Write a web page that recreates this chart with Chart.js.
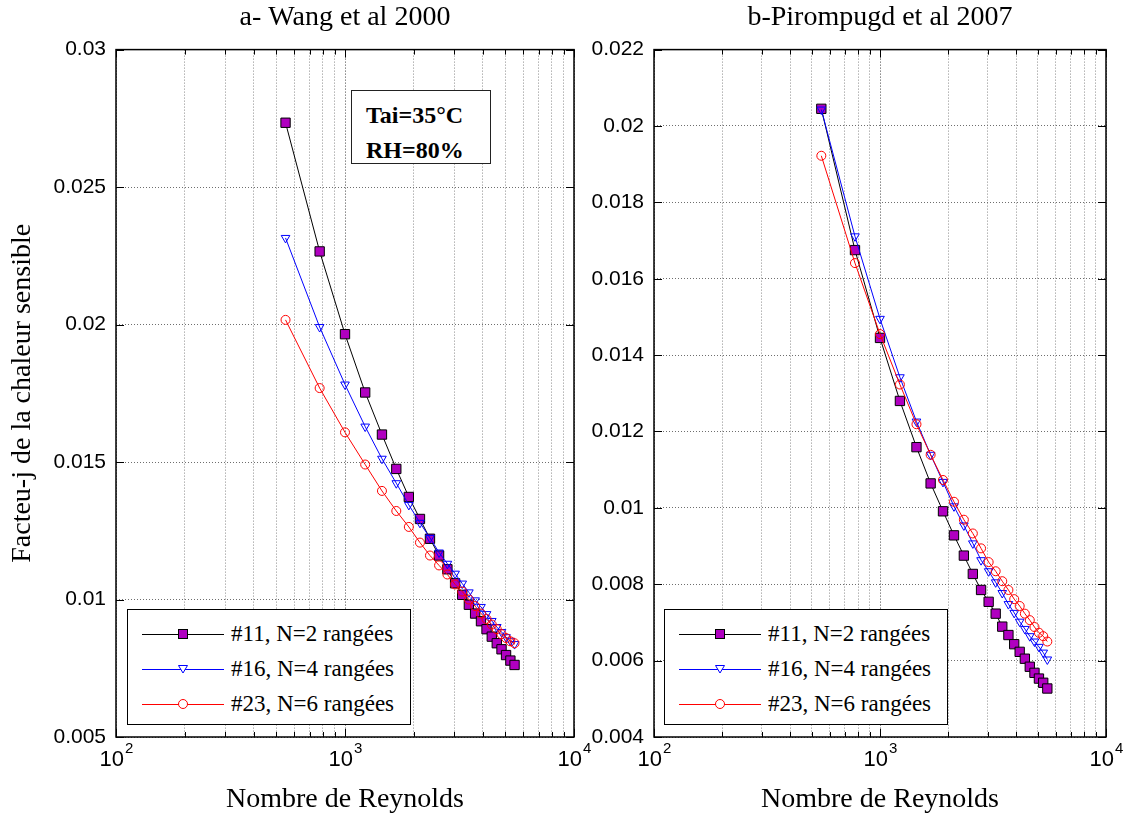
<!DOCTYPE html>
<html>
<head>
<meta charset="utf-8">
<script src="https://cdn.jsdelivr.net/npm/chart.js@4.4.1/dist/chart.umd.min.js"></script>
<style>
  body { margin: 0; background: #fff; }
  #page { position: relative; width: 1126px; height: 816px; overflow: hidden; }
  canvas { position: absolute; top: 0; }
  #chartA { left: 0; }
  #chartB { left: 580px; }
  .legend { position: absolute; width: 282px; height: 114px; border: 1px solid #000; background: #fff; }
  .legend .row { position: absolute; left: 0; width: 282px; height: 24px; }
  .legend svg { position: absolute; left: 14px; top: 5px; }
  .legend span { position: absolute; left: 103px; top: 0; font: 23px "Liberation Serif", "Times New Roman", serif; line-height: 24px; white-space: nowrap; }
  #note { position: absolute; left: 351px; top: 90px; width: 140px; height: 74px; border: 1px solid #222; background: #fff;
          font: bold 24px "Liberation Serif", "Times New Roman", serif; line-height: 35px; padding: 7px 0 0 14px; box-sizing: border-box; }
</style>
</head>
<body>
<div id="page">
  <canvas id="chartA" width="600" height="816"></canvas>
  <canvas id="chartB" width="546" height="816"></canvas>
  <div id="note">Tai=35°C<br>RH=80%</div>
  <div class="legend" id="legA" style="left:127px; top:609px;"></div>
  <div class="legend" id="legB" style="left:664px; top:609px;"></div>
</div>
<script>
// Reynolds numbers (same for every series)
var reynolds = [550, 775, 1000, 1225, 1450, 1675, 1900, 2125, 2350, 2575, 2800, 3025,
                3250, 3475, 3700, 3925, 4150, 4375, 4600, 4825, 5050, 5275, 5500];

var seriesLabels = ['#11, N=2 rangées', '#16, N=4 rangées', '#23, N=6 rangées'];

// a- Wang et al 2000
var wangN2 = [0.02734, 0.02266, 0.01965, 0.01753, 0.01600, 0.01475, 0.01373, 0.01293, 0.01221, 0.01160, 0.01110, 0.01059,
              0.01017, 0.00981, 0.00949, 0.00921, 0.00892, 0.00865, 0.00841, 0.00819, 0.00798, 0.00778, 0.00762];
var wangN4 = [0.02315, 0.01991, 0.01782, 0.01629, 0.01512, 0.01423, 0.01344, 0.01279, 0.01224, 0.01171, 0.01130, 0.01094,
              0.01058, 0.01026, 0.00997, 0.00973, 0.00947, 0.00922, 0.00900, 0.00882, 0.00863, 0.00850, 0.00838];
var wangN6 = [0.02017, 0.01769, 0.01608, 0.01491, 0.01395, 0.01322, 0.01264, 0.01207, 0.01160, 0.01124, 0.01091, 0.01055,
              0.01029, 0.01000, 0.00976, 0.00949, 0.00929, 0.00909, 0.00892, 0.00874, 0.00860, 0.00848, 0.00841];

// b-Pirompugd et al 2007
var pirN2 = [0.02045, 0.01675, 0.01445, 0.01280, 0.01159, 0.01064, 0.00991, 0.00928, 0.00875, 0.00827, 0.00785, 0.00754,
             0.00723, 0.00689, 0.00667, 0.00643, 0.00623, 0.00605, 0.00584, 0.00568, 0.00553, 0.00542, 0.00527];
var pirN4 = [0.02043, 0.01711, 0.01495, 0.01342, 0.01226, 0.01139, 0.01068, 0.01004, 0.00954, 0.00907, 0.00863, 0.00834,
             0.00805, 0.00777, 0.00748, 0.00725, 0.00702, 0.00683, 0.00664, 0.00650, 0.00636, 0.00621, 0.00603];
var pirN6 = [0.01922, 0.01641, 0.01455, 0.01323, 0.01219, 0.01139, 0.01073, 0.01016, 0.00969, 0.00933, 0.00894, 0.00858,
             0.00834, 0.00808, 0.00785, 0.00761, 0.00743, 0.00723, 0.00706, 0.00688, 0.00673, 0.00664, 0.00650];

// tick labels
var yTicksA = [0.005, 0.01, 0.015, 0.02, 0.025, 0.03];
var yTicksB = [0.004, 0.006, 0.008, 0.01, 0.012, 0.014, 0.016, 0.018, 0.02, 0.022];
var xDecades = [100, 1000, 10000];
var xExponents = ['2', '3', '4'];

var SERIF = '"Liberation Serif", "Times New Roman", serif';
var SANS = '"Liberation Sans", Arial, sans-serif';
var MAGENTA = '#b000c0';

// minor + major vertical grid positions of the log axis
var xGrid = [];
for (var d = 0; d < xDecades.length - 1; d++) {
    for (var k = 1; k < 10; k++) xGrid.push(k * xDecades[d]);
}
xGrid.push(xDecades[xDecades.length - 1]);

function pts(vals) {
    return reynolds.map(function (r, i) { return { x: r, y: vals[i] }; });
}

// frame, inward ticks and 10^n labels (MATLAB look)
var framePlugin = {
    id: 'frame',
    afterDraw: function (chart) {
        var ctx = chart.ctx, a = chart.chartArea, xs = chart.scales.x, ys = chart.scales.y;
        ctx.save();
        ctx.strokeStyle = '#000';
        ctx.lineWidth = 1;
        ctx.beginPath();
        xs.ticks.forEach(function (t) {
            var px = Math.round(xs.getPixelForValue(t.value)) + 0.5;
            var len = xDecades.indexOf(t.value) >= 0 ? 8 : 5;
            ctx.moveTo(px, a.bottom); ctx.lineTo(px, a.bottom - len);
            ctx.moveTo(px, a.top); ctx.lineTo(px, a.top + len);
        });
        ys.ticks.forEach(function (t) {
            var py = Math.round(ys.getPixelForValue(t.value)) + 0.5;
            ctx.moveTo(a.left, py); ctx.lineTo(a.left + 8, py);
            ctx.moveTo(a.right, py); ctx.lineTo(a.right - 8, py);
        });
        ctx.stroke();
        ctx.lineWidth = 1.5;
        ctx.strokeRect(a.left, a.top, a.right - a.left, a.bottom - a.top);

        ctx.fillStyle = '#000';
        ctx.textBaseline = 'alphabetic';
        ctx.textAlign = 'left';
        xDecades.forEach(function (v, i) {
            var px = xs.getPixelForValue(v);
            ctx.font = '22px ' + SANS;
            var w1 = ctx.measureText('10').width;
            ctx.font = '15px ' + SANS;
            var w2 = ctx.measureText(xExponents[i]).width;
            var x0 = px - (w1 + w2) / 2;
            ctx.font = '22px ' + SANS;
            ctx.fillText('10', x0, a.bottom + 29);
            ctx.font = '15px ' + SANS;
            ctx.fillText(xExponents[i], x0 + w1 + 1, a.bottom + 16);
        });
        ctx.restore();
    }
};

function makeChart(id, title, yMin, yMax, yTicks, yWidth, rightPad, yTitle, n2, n4, n6) {
    var ctx = document.getElementById(id).getContext('2d');
    return new Chart(ctx, {
        type: 'line',
        data: {
            datasets: [{
                label: seriesLabels[0],
                data: pts(n2),
                borderColor: '#000',
                borderWidth: 1,
                pointStyle: 'rect',
                pointRadius: 6.6,
                pointBackgroundColor: MAGENTA,
                pointBorderColor: '#000',
                pointBorderWidth: 1,
                order: 3
            }, {
                label: seriesLabels[1],
                data: pts(n4),
                borderColor: '#0000ff',
                borderWidth: 1,
                pointStyle: 'triangle',
                pointRotation: 180,
                pointRadius: 5,
                pointBackgroundColor: 'rgba(0,0,0,0)',
                pointBorderColor: '#0000ff',
                pointBorderWidth: 1,
                order: 2
            }, {
                label: seriesLabels[2],
                data: pts(n6),
                borderColor: '#ff0000',
                borderWidth: 1,
                pointStyle: 'circle',
                pointRadius: 4.5,
                pointBackgroundColor: 'rgba(0,0,0,0)',
                pointBorderColor: '#ff0000',
                pointBorderWidth: 1,
                order: 1
            }]
        },
        options: {
            responsive: false,
            animation: false,
            layout: { autoPadding: false, padding: { left: 0, right: rightPad, top: 0, bottom: 0 } },
            plugins: {
                legend: { display: false },
                tooltip: { enabled: false },
                title: {
                    display: true,
                    fullSize: false,
                    text: title,
                    color: '#000',
                    font: { family: SERIF, size: 28, weight: 'normal' },
                    padding: { top: 1, bottom: 15 }
                }
            },
            scales: {
                x: {
                    type: 'logarithmic',
                    min: 100,
                    max: 10000,
                    afterBuildTicks: function (s) {
                        s.ticks = xGrid.map(function (v) { return { value: v, major: xDecades.indexOf(v) >= 0 }; });
                    },
                    afterFit: function (s) { s.height = 79; },
                    ticks: { display: false },
                    grid: {
                        drawTicks: false,
                        lineWidth: 1,
                        color: function (c) {
                            return c.tick && xDecades.indexOf(c.tick.value) >= 0 ? '#444' : '#8a8a8a';
                        }
                    },
                    border: { display: false, dash: [1, 2] },
                    title: {
                        display: true,
                        text: 'Nombre de Reynolds',
                        color: '#000',
                        font: { family: SERIF, size: 28 },
                        padding: { top: 0, bottom: 0 }
                    }
                },
                y: {
                    type: 'linear',
                    min: yMin,
                    max: yMax,
                    afterBuildTicks: function (s) {
                        s.ticks = yTicks.map(function (v) { return { value: v }; });
                    },
                    afterFit: function (s) { s.width = yWidth; },
                    ticks: {
                        color: '#000',
                        padding: 10,
                        font: { family: SANS, size: 21 },
                        callback: function (v) { return String(v); }
                    },
                    grid: { drawTicks: false, lineWidth: 1, color: '#6e6e6e' },
                    border: { display: false, dash: [1, 2] },
                    title: {
                        display: !!yTitle,
                        text: yTitle,
                        color: '#000',
                        font: { family: SERIF, size: 28 },
                        padding: { top: 6, bottom: 0 }
                    }
                }
            }
        },
        plugins: [framePlugin]
    });
}

makeChart('chartA', 'a- Wang et al 2000', 0.005, 0.03, yTicksA, 116, 26,
          'Facteu-j de la chaleur sensible', wangN2, wangN4, wangN6);
makeChart('chartB', 'b-Pirompugd et al 2007', 0.004, 0.022, yTicksB, 74, 20,
          '', pirN2, pirN4, pirN6);

// legends (line + marker sample, like the MATLAB legend)
var samples = [
    '<rect x="36.5" y="2.5" width="9" height="9" fill="' + MAGENTA + '" stroke="#000"/>',
    '<polygon points="36.5,3.5 45.5,3.5 41,11" fill="#fff" stroke="#0000ff"/>',
    '<circle cx="41" cy="7" r="4.5" fill="#fff" stroke="#ff0000"/>'
];
var lineColors = ['#000', '#0000ff', '#ff0000'];
['legA', 'legB'].forEach(function (id) {
    var box = document.getElementById(id);
    seriesLabels.forEach(function (lab, i) {
        var row = document.createElement('div');
        row.className = 'row';
        row.style.top = (12 + 35 * i) + 'px';
        row.innerHTML = '<svg width="82" height="14"><line x1="0" y1="7.5" x2="82" y2="7.5" stroke="' + lineColors[i] + '" stroke-width="1"/>'
            + samples[i] + '</svg><span>' + lab + '</span>';
        box.appendChild(row);
    });
});
</script>
</body>
</html>
